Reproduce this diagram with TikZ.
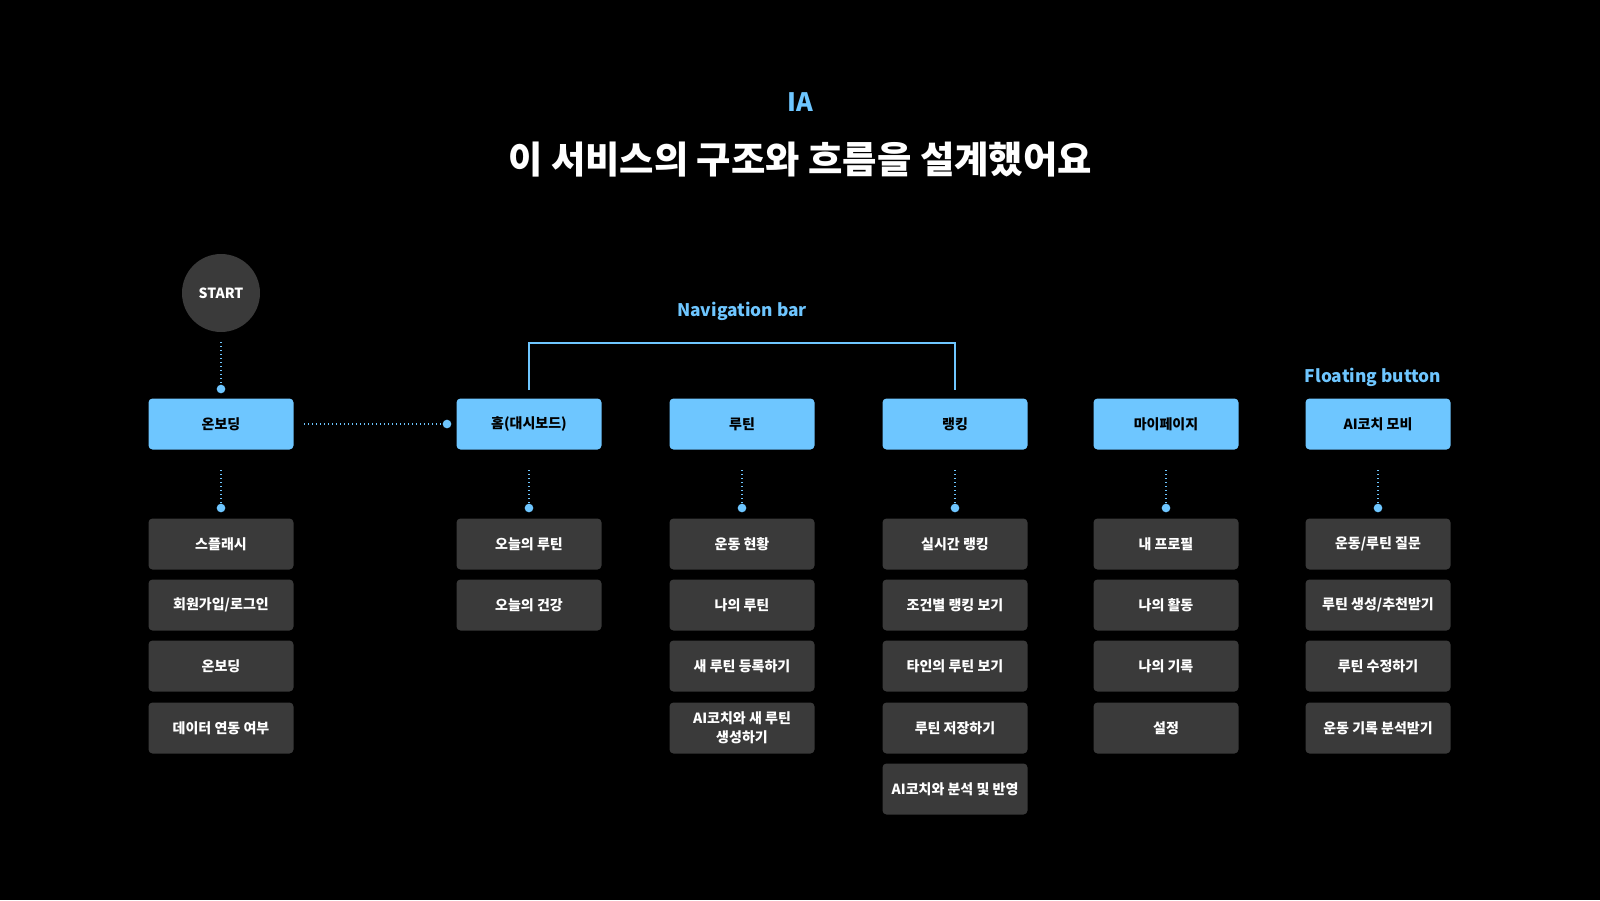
\documentclass[tikz,border=0pt]{standalone}
\usepackage{fontspec}
\setmainfont{Noto Sans CJK KR}
\begin{document}
\begin{tikzpicture}[x=0.75pt,y=-0.75pt,
  top/.style={fill={rgb,255:red,110;green,198;blue,255},rounded corners=3pt,minimum width=108.75pt,minimum height=38.25pt,font=\bfseries\fontsize{10.5}{12}\selectfont,text=black,inner sep=0pt},
  sub/.style={fill={rgb,255:red,58;green,58;blue,58},rounded corners=3pt,minimum width=108.75pt,minimum height=38.25pt,font=\bfseries\fontsize{10.5}{14}\selectfont,text=white,inner sep=0pt,align=center},
  dl/.style={draw={rgb,255:red,110;green,198;blue,255},line width=1pt,dotted},
  dot/.style={circle,fill={rgb,255:red,110;green,198;blue,255},minimum size=6.5pt,inner sep=0pt},
  lab/.style={text={rgb,255:red,110;green,198;blue,255},font=\bfseries\fontsize{13}{15}\selectfont}]
\fill[black] (0,0) rectangle (1600,900);
\node[lab,font=\bfseries\fontsize{19}{22}\selectfont] (ia) at (800,102) {IA};
\node[text=white,font=\bfseries\fontsize{28}{32}\selectfont] (title) at (800,160) {이 서비스의 구조와 흐름을 설계했어요};
\node[circle,fill={rgb,255:red,58;green,58;blue,58},minimum size=58.5pt,text=white,font=\bfseries\fontsize{10.5}{12}\selectfont] (start) at (221,293) {START};
\node[lab] (nav) at (742,311) {Navigation bar};
\node[lab] (flt) at (1373,377) {Floating button};
\foreach \n/\x/\t in {c1/221/온보딩,c2/529/홈(대시보드),c3/742/루틴,c4/955/랭킹,c5/1166/마이페이지,c6/1378/AI코치 모비}{
  \node[top] (\n) at (\x,424) {\t};
  \coordinate (\n s) at (\x,470);
  \node[dot] (\n d) at (\x,508) {};
  \draw[dl] (\n s) -- (\n d);
}
\coordinate (ss) at (221,342);
\node[dot] (sd) at (221,389) {};
\draw[dl] (ss) -- (sd);
\coordinate (hs) at (304,424);
\node[dot] (hd) at (447,424) {};
\draw[dl] (hs) -- (hd);
\coordinate (b1) at (529,390);
\coordinate (b2) at (955,390);
\draw[draw={rgb,255:red,110;green,198;blue,255},line width=1.2pt] (b1) -- (529,343) -- (955,343) -- (b2);
\def\ys{{544,605,666,728,789}}
\foreach \n/\x/\lst in {
 a/221/{스플래시,회원가입/로그인,온보딩,데이터 연동 여부},
 b/529/{오늘의 루틴,오늘의 건강},
 c/742/{운동 현황,나의 루틴,새 루틴 등록하기,{AI코치와 새 루틴\\생성하기}},
 d/955/{실시간 랭킹,조건별 랭킹 보기,타인의 루틴 보기,루틴 저장하기,AI코치와 분석 및 반영},
 e/1166/{내 프로필,나의 활동,나의 기록,설정},
 f/1378/{운동/루틴 질문,루틴 생성/추천받기,루틴 수정하기,운동 기록 분석받기}}{
  \foreach \t [count=\i from 0] in \lst {
    \pgfmathsetmacro\yy{\ys[\i]}
    \node[sub] (\n\i) at (\x,\yy) {\t};
  }
}
\end{tikzpicture}
\end{document}
